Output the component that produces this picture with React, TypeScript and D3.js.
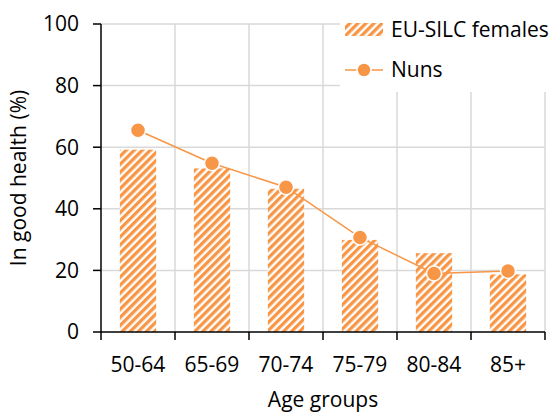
import React from "react";
import * as d3 from "d3";

const categories = ["50-64", "65-69", "70-74", "75-79", "80-84", "85+"];
const euSilcFemales = [59.2, 53.1, 46.5, 29.9, 25.6, 18.7];
const nuns = [65.5, 54.8, 47.0, 30.7, 19.0, 19.8];
const yTicks = [0, 20, 40, 60, 80, 100];

const W = 560;
const H = 414;
const M = { left: 101, right: 15, top: 24, bottom: 82 };
const ORANGE = "#F79646";
const FONT = "'Open Sans', 'Liberation Sans', Arial, sans-serif";
const FS = 21;

export default function App() {
  const x = d3
    .scaleBand<string>()
    .domain(categories)
    .range([M.left, W - M.right])
    .paddingInner(0)
    .paddingOuter(0);
  const y = d3.scaleLinear().domain([0, 100]).range([H - M.bottom, M.top]);
  const bw = x.bandwidth();
  const barW = bw * 0.49;
  const line = d3
    .line<number>()
    .x((_, i) => (x(categories[i]) as number) + bw / 2)
    .y((d) => y(d));
  const boundaries = [...categories.map((c) => x(c) as number), (x(categories[categories.length - 1]) as number) + bw];
  const x0 = M.left;
  const x1 = W - M.right;
  const y0 = y(0);

  return (
    <svg
      width={W}
      height={H}
      style={{ position: "absolute", left: 0, top: 0, display: "block", background: "#fff" }}
      fontFamily={FONT}
    >
      <defs>
        <pattern
          id="hatch"
          patternUnits="userSpaceOnUse"
          width={5.7}
          height={5.7}
          patternTransform="rotate(45)"
        >
          <rect x={0} y={0} width={5.7} height={5.7} fill="#fff" />
          <rect x={0} y={0} width={3.3} height={5.7} fill={ORANGE} />
        </pattern>
      </defs>
      {/* gridlines */}
      {yTicks.filter((t) => t > 0).map((t) => (
        <line key={"h" + t} x1={x0} x2={x1} y1={y(t)} y2={y(t)} stroke="#d9d9d9" strokeWidth={1.5} />
      ))}
      {boundaries.slice(1).map((bx, i) => (
        <line key={"v" + i} x1={bx} x2={bx} y1={y(100)} y2={y0} stroke="#d9d9d9" strokeWidth={1.5} />
      ))}
      {/* bars */}
      {categories.map((c, i) => (
        <rect
          key={c}
          x={(x(c) as number) + bw / 2 - barW / 2}
          y={y(euSilcFemales[i])}
          width={barW}
          height={y0 - y(euSilcFemales[i])}
          fill="url(#hatch)"
        />
      ))}
      {/* line */}
      <path d={line(nuns) || ""} fill="none" stroke={ORANGE} strokeWidth={1.5} />
      {nuns.map((v, i) => (
        <circle
          key={i}
          cx={(x(categories[i]) as number) + bw / 2}
          cy={y(v)}
          r={7.5}
          fill={ORANGE}
          stroke="#fff"
          strokeWidth={1.5}
        />
      ))}
      {/* legend */}
      <rect x={340} y={14} width={220} height={78} fill="#fff" />
      <rect x={345} y={23} width={38} height={13} fill="url(#hatch)" />
      <text x={391} y={37} fontSize={FS} fill="#000">EU-SILC females</text>
      <line x1={345} x2={383} y1={70} y2={70} stroke={ORANGE} strokeWidth={1.5} />
      <circle cx={364} cy={70} r={7} fill={ORANGE} stroke="#fff" strokeWidth={1.5} />
      <text x={391} y={77} fontSize={FS} fill="#000">Nuns</text>
      {/* axes */}
      <line x1={x0} x2={x0} y1={y(100)} y2={y0} stroke="#000" strokeWidth={1.5} />
      {yTicks.map((t) => (
        <g key={"yt" + t}>
          <line x1={x0 - 8} x2={x0} y1={y(t)} y2={y(t)} stroke="#000" strokeWidth={1.5} />
          <text x={79} y={y(t)} dy="0.35em" textAnchor="end" fontSize={FS} fill="#000">
            {t}
          </text>
        </g>
      ))}
      <line x1={x0} x2={x1} y1={y0} y2={y0} stroke="#000" strokeWidth={1.5} />
      {boundaries.map((bx, i) => (
        <line key={"xt" + i} x1={bx} x2={bx} y1={y0} y2={y0 + 8} stroke="#000" strokeWidth={1.5} />
      ))}
      {categories.map((c) => (
        <text
          key={"xl" + c}
          x={(x(c) as number) + bw / 2}
          y={372}
          textAnchor="middle"
          fontSize={FS}
          fill="#000"
        >
          {c}
        </text>
      ))}
      <text x={(x0 + x1) / 2} y={407} textAnchor="middle" fontSize={FS} fill="#000">
        Age groups
      </text>
      <text
        transform={`translate(26, ${(y(100) + y0) / 2}) rotate(-90)`}
        textAnchor="middle"
        fontSize={FS}
        fill="#000"
      >
        In good health (%)
      </text>
    </svg>
  );
}
